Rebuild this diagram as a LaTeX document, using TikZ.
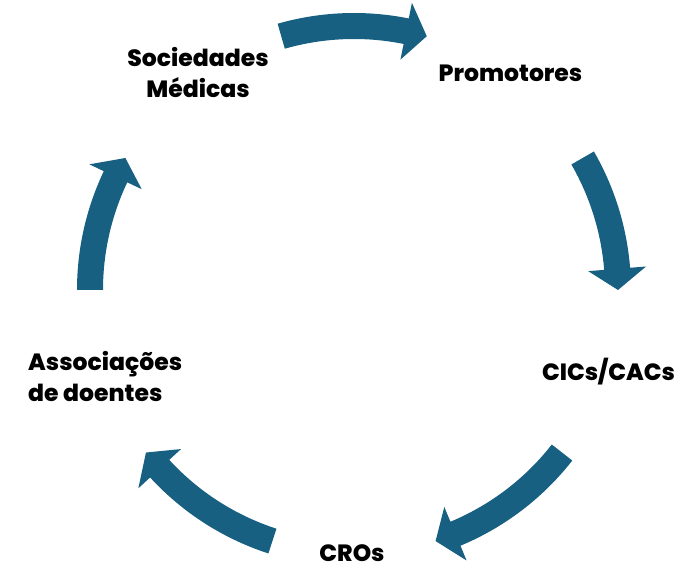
\documentclass[tikz,border=0pt]{standalone}
\usepackage{fontspec}
\newfontfamily\poppins{Poppins}[BoldFont={Poppins ExtraBold}]
\definecolor{azulseta}{RGB}{23,96,130}

\begin{document}
\begin{tikzpicture}[x=1pt, y=1pt]
	\tikzset{rotulo/.style={font=\poppins\bfseries\fontsize{23.5}{31}\selectfont, inner sep=0pt}, seta/.style={fill=azulseta, draw=none}};

	\useasboundingbox (0,0) rectangle (699,567);

	\node[rotulo, anchor=base, align=center] (sociedades) at (198,469) {Sociedades\\Médicas};
	\node[rotulo, anchor=base] (promotores) at (510.5,485) {Promotores};
	\node[rotulo, anchor=base] (cics) at (608.5,186) {CICs/CACs};
	\node[rotulo, anchor=base] (cros) at (352,5) {CROs};
	\node[rotulo, anchor=base west, align=left] (associacoes) at (28,165) {Associações\\de doentes};

	% setas: angulo inicial / angulo final
	\begin{scope}[shift={(354,277)}]
		\foreach \ai/\af in {106/74, 30/0, -38/-72, -108/-142, 180/150} {
			\pgfmathsetmacro{\ab}{\af+4.6}
			\fill[seta] (\ai:277) arc[start angle=\ai, end angle=\ab, radius=277] -- (\ab:293) -- (\af:264) -- (\ab:235) -- (\ab:251) arc[start angle=\ab, end angle=\ai, radius=251] -- cycle;
		}
	\end{scope}

\end{tikzpicture}
\end{document}
